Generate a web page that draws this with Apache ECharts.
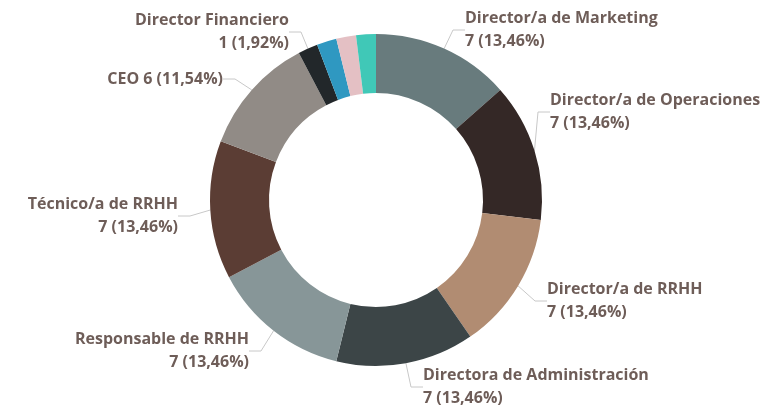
<!DOCTYPE html>
<html>
<head>
<meta charset="utf-8">
<script src="https://cdn.jsdelivr.net/npm/echarts@6/dist/echarts.min.js"></script>
<style>
  html, body { margin: 0; padding: 0; background: #fff; }
  #puestos { width: 762px; height: 411px; }
</style>
</head>
<body>
<div id="puestos"></div>
<script>
  // puestos y numero de personas
  var categorias = [
    'Director/a de Marketing',
    'Director/a de Operaciones',
    'Director/a de RRHH',
    'Directora de Administración',
    'Responsable de RRHH',
    'Técnico/a de RRHH',
    'CEO',
    'Director Financiero',
    'Otro puesto 1',
    'Otro puesto 2',
    'Otro puesto 3'
  ];
  var valores = [7, 7, 7, 7, 7, 7, 6, 1, 1, 1, 1];
  var colores = ['#687b7d', '#342826', '#b18c72', '#3c4547', '#879698', '#5b3d34',
    '#918b86', '#22272a', '#2f98c1', '#e4c0c4', '#40c8b7'];
  // los tres ultimos sin etiqueta
  var conEtiqueta = [true, true, true, true, true, true, true, true, false, false, false];

  var total = valores.reduce(function (a, b) { return a + b; }, 0);

  // donde va cada etiqueta (x, y, alineacion)
  var posEtiquetas = [
    [465, 30, 'left'],
    [550, 112, 'left'],
    [547, 301, 'left'],
    [423, 387, 'left'],
    [249, 351, 'right'],
    [178, 216, 'right'],
    [223, 79, 'right'],
    [289, 32, 'right']
  ];

  var chart = echarts.init(document.getElementById('puestos'));

  var datos = categorias.map(function (nombre, i) {
    return {
      name: nombre,
      value: valores[i],
      itemStyle: { color: colores[i] },
      label: { show: conEtiqueta[i] },
      labelLine: { show: conEtiqueta[i] }
    };
  });

  var option = {
    animation: false,
    series: [{
      type: 'pie',
      center: [376, 200],
      radius: [107, 166],
      startAngle: 90,
      clockwise: true,
      avoidLabelOverlap: false,
      data: datos,
      label: {
        color: '#6e5d58',
        fontFamily: 'Open Sans',
        fontWeight: 'bold',
        fontSize: 16,
        lineHeight: 23,
        formatter: function (p) {
          var pct = (p.value / total * 100).toFixed(2).replace('.', ',');
          if (p.name === 'CEO') return p.name + ' ' + p.value + ' (' + pct + '%)';
          return p.name + '\n' + p.value + ' (' + pct + '%)';
        }
      },
      labelLine: {
        length: 10,
        length2: 12,
        lineStyle: { color: '#c8c8c8', width: 1 }
      },
      labelLayout: function (params) {
        var pos = posEtiquetas[params.dataIndex];
        if (!pos) return {};
        return { x: pos[0], y: pos[1], align: pos[2], verticalAlign: 'middle' };
      }
    }]
  };

  chart.setOption(option);
</script>
</body>
</html>
